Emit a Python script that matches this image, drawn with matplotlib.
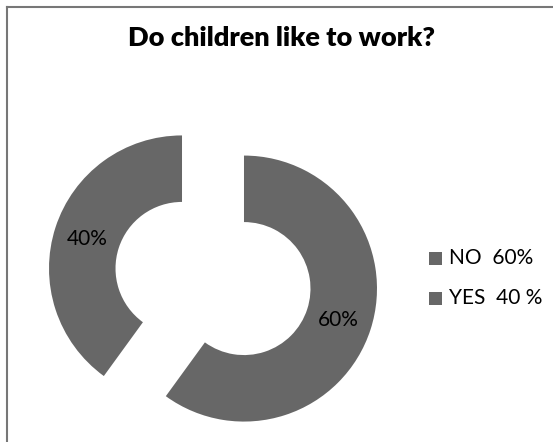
import matplotlib
matplotlib.use("Agg")
import matplotlib.pyplot as plt
from matplotlib.lines import Line2D
from matplotlib.patches import Rectangle

title = "Do children like to work?"
categories = ["NO", "YES"]
values = [60, 40]
slice_labels = ["60%", "40%"]
legend_labels = ["NO  60%", "YES  40 %"]

W, H = 553, 442
fig = plt.figure(figsize=(W / 100, H / 100), dpi=100)
fig.patch.set_facecolor("white")

gray = "#676767"
font = "Lato"

# pixel geometry
cx, cy, R = 213, 278.5, 133
ax = fig.add_axes([0, 0, 1, 1])
wedges, _ = ax.pie(values, startangle=90, counterclock=False, radius=1,
                   colors=[gray, gray], explode=[0.245, 0.245],
                   wedgeprops=dict(width=0.5, edgecolor="none"))
ax.set_xlim(-cx / R, (W - cx) / R)
ax.set_ylim(-(H - cy) / R, cy / R)
ax.set_aspect("auto")
ax.axis("off")

def px(x, y):
    return ((x - cx) / R, (cy - y) / R)

ax.text(*px(338, 320), slice_labels[0], fontsize=15, family=font, ha="center", va="center", color="black")
ax.text(*px(87, 239), slice_labels[1], fontsize=15, family=font, ha="center", va="center", color="black")

fig.text(281 / W, 1 - 38 / H, title, fontsize=19.5, fontweight="heavy", family=font,
         ha="center", va="center", color="black")

# legend
for i, lab in enumerate(legend_labels):
    y = 258 + i * 40
    fig.patches.append(Rectangle((429 / W, 1 - (y + 6.5) / H), 13 / W, 13 / H,
                                 transform=fig.transFigure, facecolor=gray, edgecolor="none"))
    fig.text(449 / W, 1 - y / H, lab, fontsize=15, family=font, ha="left", va="center", color="black")

# border
fig.lines.append(Line2D([6.5 / W, 6.5 / W], [0, 1 - 6.5 / H], transform=fig.transFigure, color="#777777", lw=1.5))
fig.lines.append(Line2D([6.5 / W, 1], [1 - 6.5 / H, 1 - 6.5 / H], transform=fig.transFigure, color="#777777", lw=1.5))

fig.savefig("out.png", dpi=100)
